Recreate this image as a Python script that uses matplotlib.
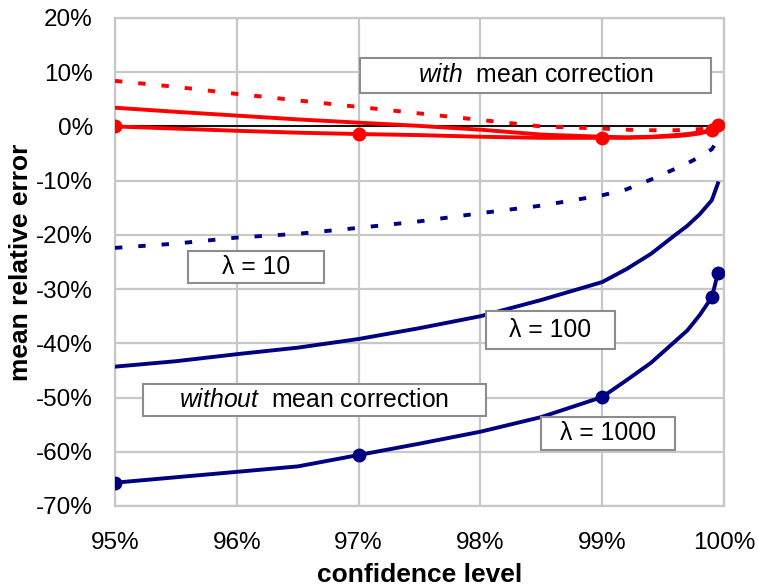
import matplotlib.pyplot as plt
from matplotlib.patches import Rectangle
from matplotlib.ticker import PercentFormatter

plt.rcParams['font.family'] = ['Liberation Sans', 'DejaVu Sans']
plt.rcParams['mathtext.fontset'] = 'custom'
plt.rcParams['mathtext.it'] = 'Liberation Sans:italic'
plt.rcParams['mathtext.rm'] = 'Liberation Sans'
plt.rcParams['axes.unicode_minus'] = False

# confidence levels (%) and mean relative errors (%)
conf = [95, 95.5, 96, 96.5, 97, 97.5, 98, 98.5, 99, 99.2, 99.4, 99.6, 99.7, 99.8, 99.9, 99.95]
marked = [95, 97, 99, 99.9, 99.95]

# with mean correction
with_l10 = [8.4, 7.3, 6.0, 4.8, 3.6, 2.4, 1.2, 0.0, -0.4, -0.6, -0.7, -0.7, -0.6, -0.5, -0.4, 0.2]
with_l100 = [3.45, 2.7, 2.0, 1.3, 0.7, 0.1, -0.6, -1.5, -1.9, -2.0, -1.9, -1.6, -1.4, -1.1, -0.7, 0.2]
with_l1000 = [0.0, -0.4, -0.8, -1.15, -1.4, -1.6, -1.9, -2.1, -2.1, -2.1, -2.0, -1.8, -1.6, -1.3, -0.7, 0.3]

# without mean correction
wo_l10 = [-22.4, -21.6, -20.5, -19.8, -18.7, -17.5, -16.0, -14.6, -12.7, -11.6, -9.8, -7.8, -6.8, -5.6, -4.2, -2.5]
wo_l100 = [-44.3, -43.3, -42.0, -40.8, -39.2, -37.2, -35.0, -32.0, -28.7, -26.3, -23.5, -20.0, -18.3, -16.2, -13.6, -10.5]
wo_l1000 = [-65.7, -64.7, -63.7, -62.7, -60.6, -58.5, -56.3, -53.6, -49.9, -46.8, -43.6, -39.6, -37.6, -34.8, -31.5, -27.1]

RED = '#ff0000'
NAVY = '#000080'
LW = 2.8
DOTS = (1.9, 4.1)

fig = plt.figure(figsize=(7.58, 5.88), dpi=100)
ax = fig.add_axes([115 / 758, 1 - 506 / 588, (724 - 115) / 758, (506 - 18) / 588])

mk = [conf.index(c) for c in marked]

ax.axhline(0, color='black', lw=1.3, zorder=2)

ax.plot(conf, with_l10, color=RED, lw=LW, dashes=DOTS, dash_capstyle='butt', zorder=3)
ax.plot(conf, with_l100, color=RED, lw=LW, zorder=3)
ax.plot(conf, with_l1000, color=RED, lw=LW, marker='o', ms=9, markevery=mk, zorder=3)

ax.plot(conf, wo_l10, color=NAVY, lw=LW, dashes=DOTS, dash_capstyle='butt', zorder=3)
ax.plot(conf, wo_l100, color=NAVY, lw=LW, zorder=3)
ax.plot(conf, wo_l1000, color=NAVY, lw=LW, marker='o', ms=9, markevery=mk, zorder=3)

ax.set_xlim(95, 100)
ax.set_ylim(-70, 20)
ax.set_xticks(range(95, 101))
ax.set_yticks(range(-70, 21, 10))
ax.xaxis.set_major_formatter(PercentFormatter(decimals=0))
ax.yaxis.set_major_formatter(PercentFormatter(decimals=0))
ax.tick_params(length=0, labelsize=17.5)
ax.tick_params(axis='x', pad=19)
ax.tick_params(axis='y', pad=16)
ax.grid(True, color='#c8c8c8', lw=1.6, zorder=0)
ax.set_axisbelow(True)
for s in ax.spines.values():
    s.set_color('#c8c8c8')
    s.set_linewidth(1.6)

ax.set_xlabel('confidence level', fontsize=19, fontweight='bold', labelpad=6)
ax.set_ylabel('mean relative error', fontsize=19, fontweight='bold', labelpad=2)


def label_box(x0, y0, x1, y1, text):
    W, H = 758, 588
    fig.add_artist(Rectangle((x0 / W, 1 - y1 / H), (x1 - x0) / W, (y1 - y0) / H,
                             transform=fig.transFigure, fc='white', ec='#8c8c8c',
                             lw=1.5, zorder=5))
    fig.text((x0 + x1) / 2 / W, 1 - (y0 + y1) / 2 / H, text, ha='center', va='center',
             fontsize=17.8, zorder=6)


label_box(360, 58, 711, 93, r'$\mathit{with}$  mean correction')
label_box(188, 251, 324, 283, '\u03bb = 10')
label_box(486, 311, 615, 349, '\u03bb = 100')
label_box(143, 384, 486, 416, r'$\mathit{without}$  mean correction')
label_box(541, 417, 675, 450, '\u03bb = 1000')

fig.savefig('out.png', dpi=100)
